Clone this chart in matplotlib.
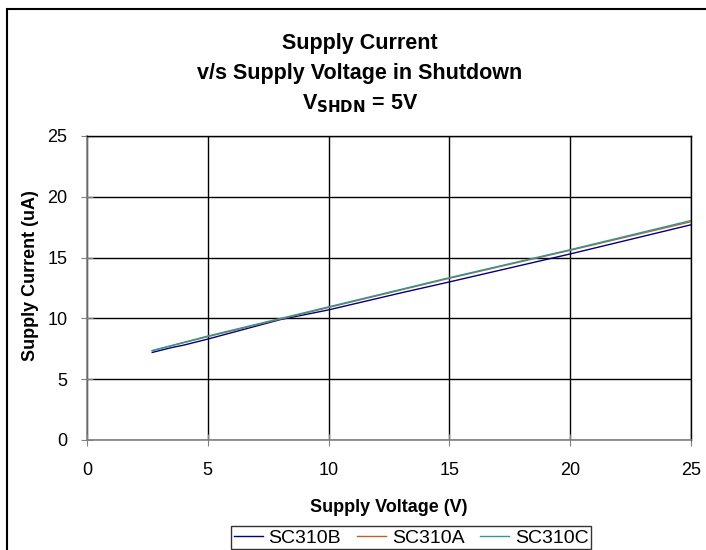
import matplotlib
matplotlib.use("Agg")
import matplotlib.pyplot as plt
from matplotlib.patches import Rectangle

plt.rcParams['font.family'] = ['Liberation Sans', 'DejaVu Sans']

# Data
v_b = [2.7, 3.5, 4.0, 5.0, 8.0, 10.0, 13.0, 15.0, 20.0, 25.0]
i_b = [7.2, 7.6, 7.8, 8.3, 9.9, 10.7, 12.1, 13.0, 15.3, 17.7]
v_a = [2.7, 5.0, 10.0, 15.0, 20.0, 25.0]
i_a = [7.35, 8.5, 10.9, 13.3, 15.6, 17.95]
v_c = [2.7, 5.0, 10.0, 15.0, 20.0, 25.0]
i_c = [7.35, 8.55, 10.95, 13.35, 15.65, 18.05]

series_names = ['SC310B', 'SC310A', 'SC310C']
colors = ['#000080', '#C0602A', '#2A9A9A']

xticks = [0, 5, 10, 15, 20, 25]
yticks = [0, 5, 10, 15, 20, 25]

fig = plt.figure(figsize=(7.06, 5.5), dpi=100)
# outer frame
fig.patches.append(Rectangle((7/706, -0.01), 1.0, 1 - 9/550 + 0.01, transform=fig.transFigure,
                             fill=False, edgecolor='black', linewidth=1.5))
ax = fig.add_axes([87/706, 1 - 440/550, (691-87)/706, (440-136)/550])

ax.plot(v_b, i_b, color=colors[0], lw=1.0, label=series_names[0])
ax.plot(v_a, i_a, color=colors[1], lw=1.0, label=series_names[1])
ax.plot(v_c, i_c, color=colors[2], lw=1.0, label=series_names[2])

ax.set_xlim(0, 25)
ax.set_ylim(0, 25)
ax.set_xticks(xticks)
ax.set_yticks(yticks)
ax.grid(True, color='black', lw=1.0)
ax.set_axisbelow(True)
for s in ['left', 'bottom']:
    ax.spines[s].set_color('#808080')
    ax.spines[s].set_linewidth(1.2)
for s in ['top', 'right']:
    ax.spines[s].set_color('black')
    ax.spines[s].set_linewidth(1.0)
ax.tick_params(direction='inout', length=8, color='#808080', labelsize=13)
ax.tick_params(axis='x', pad=12)
ax.tick_params(axis='y', pad=10)

ax.set_xlabel('Supply Voltage (V)', fontsize=13, fontweight='bold', labelpad=14)
ax.set_ylabel('Supply Current (uA)', fontsize=13, fontweight='bold')
ax.yaxis.set_label_coords(-0.080, 0.54)

tfs = 15.5
fig.text(0.51, 1 - 44/550, 'Supply Current', ha='center', va='center', fontsize=tfs, fontweight='bold')
fig.text(0.51, 1 - 74/550, 'v/s Supply Voltage in Shutdown', ha='center', va='center', fontsize=tfs, fontweight='bold')
fig.text(0.51, 1 - 104/550, r'V$_{\mathbf{SHDN}}$ = 5V', ha='center', va='center', fontsize=tfs, fontweight='bold')

leg = fig.legend(loc='upper center', bbox_to_anchor=(411/706, 1 - 526/550), ncol=3, fontsize=14,
                 frameon=True, fancybox=False, edgecolor='black', handlelength=1.5,
                 handletextpad=0.3, columnspacing=0.8, borderpad=0.15, borderaxespad=0)
leg.get_frame().set_linewidth(1.0)

fig.savefig('out.png', dpi=100)
